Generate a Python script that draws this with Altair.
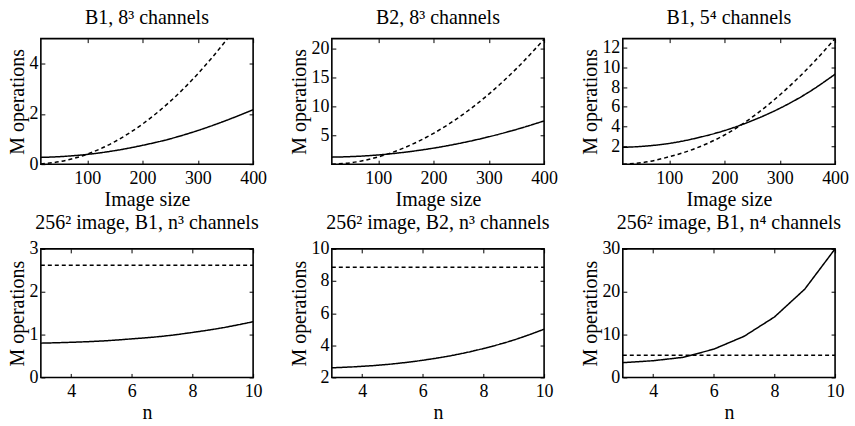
import altair as alt
import pandas as pd

FONT = "Liberation Serif"

# ---- data ----
size_x = [16, 50, 100, 150, 200, 250, 300, 350, 400]
n_x = [3, 4, 5, 6, 7, 8, 9, 10]

p1_solid = [0.27, 0.30, 0.39, 0.54, 0.75, 1.01, 1.34, 1.73, 2.17]
p1_dashed = [0.01, 0.10, 0.40, 0.90, 1.60, 2.50, 3.60, 4.90, 6.40]

p2_solid = [1.31, 1.40, 1.69, 2.18, 2.86, 3.74, 4.81, 6.08, 7.54]
p2_dashed = [0.10, 0.34, 1.35, 3.04, 5.40, 8.44, 12.15, 16.54, 21.60]

p3_solid = [1.90, 2.00, 2.30, 2.85, 3.60, 4.60, 5.85, 7.40, 9.30]
p3_dashed = [0.20, 0.35, 0.95, 1.85, 3.15, 4.95, 7.20, 9.85, 12.90]

p4_solid = [0.80, 0.82, 0.85, 0.90, 0.96, 1.05, 1.16, 1.30]
p4_dashed = [2.62, 2.62, 2.62, 2.62, 2.62, 2.62, 2.62, 2.62]

p5_solid = [2.60, 2.69, 2.84, 3.07, 3.38, 3.80, 4.33, 5.00]
p5_dashed = [8.85, 8.85, 8.85, 8.85, 8.85, 8.85, 8.85, 8.85]

p6_solid = [3.45, 3.90, 4.70, 6.60, 9.60, 14.10, 20.60, 30.00]
p6_dashed = [5.17, 5.17, 5.17, 5.17, 5.17, 5.17, 5.17, 5.17]

titles = [
    "B1, 8\u00b3 channels",
    "B2, 8\u00b3 channels",
    "B1, 5\u2074 channels",
    "256\u00b2 image, B1, n\u00b3 channels",
    "256\u00b2 image, B2, n\u00b3 channels",
    "256\u00b2 image, B1, n\u2074 channels",
]

size_ticks = [100, 200, 300, 400]
n_ticks = [4, 6, 8, 10]

W = 213
H_TOP = 126
H_BOT = 129

AX = dict(domain=False, ticks=False, grid=True, gridColor="black", gridOpacity=1,
          gridWidth=1, labelFont=FONT, labelFontSize=18, labelColor="black",
          labelFlush=False, labelOverlap=False,
          titleFont=FONT, titleFontSize=20, titleFontWeight="normal",
          titleColor="black")


def panel(title, xs, solid, dashed, xlab, xdom, xticks, ydom, yticks, h, interp, toff):
    df = pd.DataFrame({
        "x": list(xs) + list(xs),
        "y": list(solid) + list(dashed),
        "s": ["solid"] * len(xs) + ["dashed"] * len(xs),
    })
    return alt.Chart(df, title=alt.Title(
        title, offset=toff, font=FONT, fontSize=20, fontWeight="normal",
        color="black", anchor="middle")).mark_line(
        clip=True, color="black", strokeWidth=1.5, interpolate=interp
    ).encode(
        x=alt.X("x:Q",
                scale=alt.Scale(domain=xdom, nice=False, zero=False),
                axis=alt.Axis(values=xticks, title=xlab, labelPadding=5,
                              titlePadding=2,
                              gridDash=[4, h - 8, 4, 3000], **AX)),
        y=alt.Y("y:Q",
                scale=alt.Scale(domain=ydom, nice=False, zero=False),
                axis=alt.Axis(values=yticks, title="M operations",
                              labelPadding=3, titlePadding=1,
                              gridDash=[4, W - 8, 4, 3000], **AX)),
        strokeDash=alt.StrokeDash(
            "s:N",
            scale=alt.Scale(domain=["solid", "dashed"], range=[[1, 0], [4, 3]]),
            legend=None),
    ).properties(width=W, height=h)


charts = [
    panel(titles[0], size_x, p1_solid, p1_dashed, "Image size", [16, 400], size_ticks,
          [0, 5], [0, 2, 4], H_TOP, "monotone", 11),
    panel(titles[1], size_x, p2_solid, p2_dashed, "Image size", [16, 400], size_ticks,
          [0.1, 21.7], [5, 10, 15, 20], H_TOP, "monotone", 11),
    panel(titles[2], size_x, p3_solid, p3_dashed, "Image size", [16, 400], size_ticks,
          [0.2, 12.9], [2, 4, 6, 8, 10, 12], H_TOP, "monotone", 11),
    panel(titles[3], n_x, p4_solid, p4_dashed, "n", [3, 10], n_ticks,
          [0, 3], [0, 1, 2, 3], H_BOT, "monotone", 7),
    panel(titles[4], n_x, p5_solid, p5_dashed, "n", [3, 10], n_ticks,
          [2, 10], [2, 4, 6, 8, 10], H_BOT, "monotone", 7),
    panel(titles[5], n_x, p6_solid, p6_dashed, "n", [3, 10], n_ticks,
          [0, 30], [0, 10, 20, 30], H_BOT, "linear", 7),
]

chart = alt.concat(
    *charts, columns=3, bounds="flush",
    spacing=alt.RowColnumber(row=85, column=79),
).properties(
    padding={"left": 7, "top": 6, "right": 5, "bottom": 5},
    background="white",
).configure_view(
    stroke="black", strokeWidth=1.6, fill="white"
)

chart.save("out.html", embed_options={"renderer": "svg", "actions": False})
